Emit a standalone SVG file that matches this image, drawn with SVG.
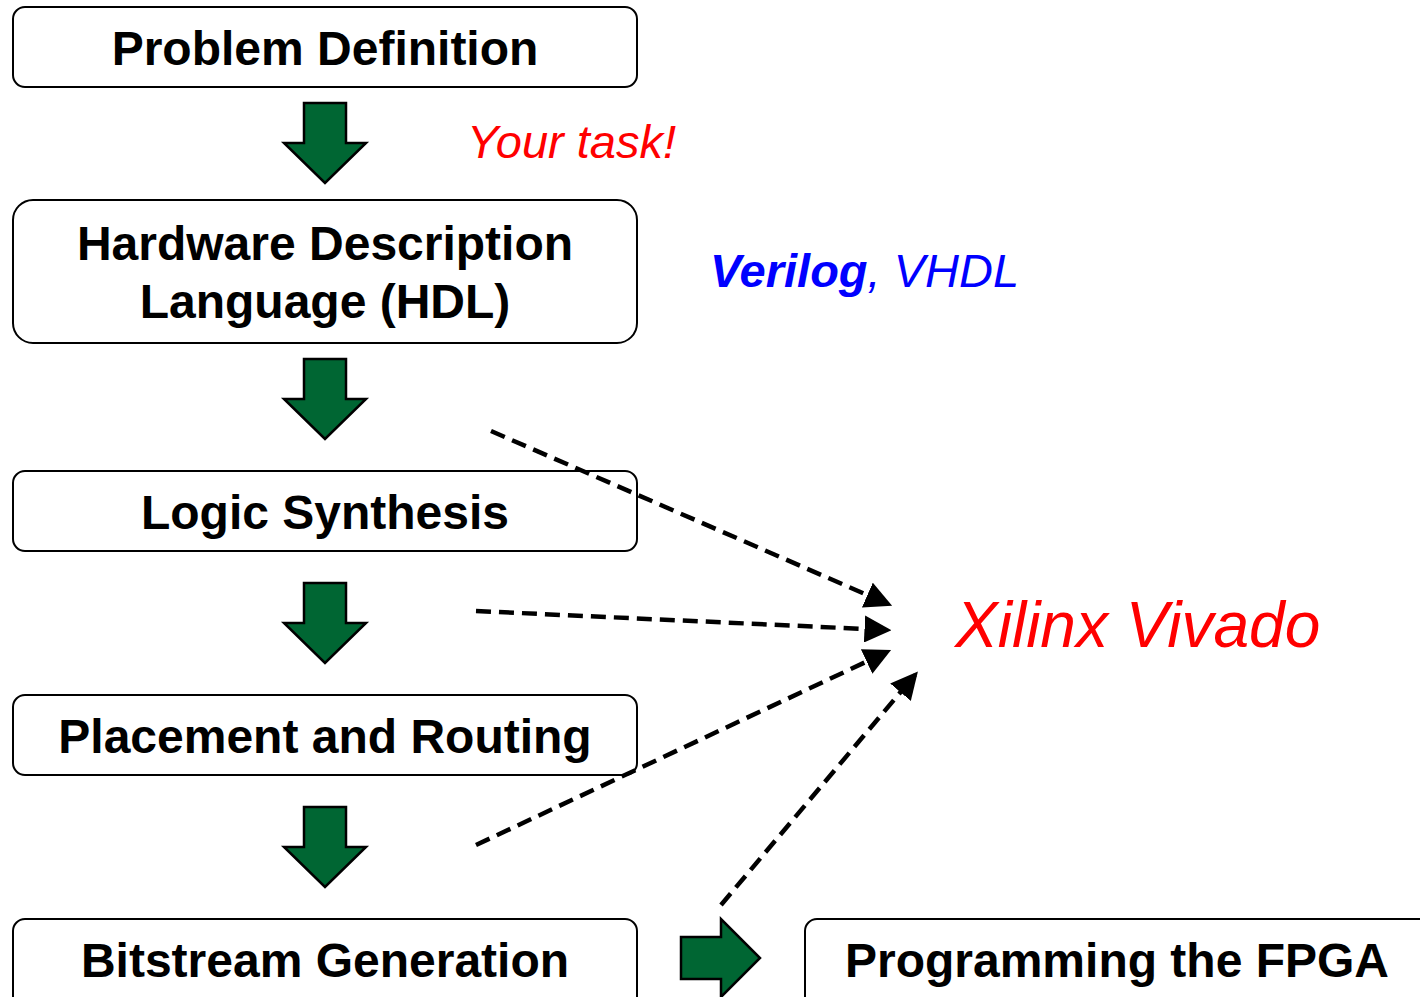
<svg xmlns="http://www.w3.org/2000/svg" width="1420" height="997" viewBox="0 0 1420 997">
<style>
.box{fill:#fff;stroke:#000;stroke-width:2}
.t{font-family:"Liberation Sans",Arial,sans-serif;font-weight:bold;font-size:48px;text-anchor:middle;fill:#000}
.arr{fill:#006633;stroke:#000;stroke-width:2.5;stroke-linejoin:miter}
.dash{stroke:#000;stroke-width:4.5;stroke-dasharray:15 8;fill:none;marker-end:url(#ah)}
.lbl{font-family:"Liberation Sans",Arial,sans-serif;font-style:italic}
</style>
<defs>
<marker id="ah" markerWidth="6" markerHeight="6" refX="5" refY="3" orient="auto" markerUnits="strokeWidth"><path d="M0,0 L6,3 L0,6 Z" fill="#000"/></marker>
<path id="down" d="M-21,0 H21 V40 H41 L0,80 L-41,40 H-21 Z"/>
</defs>
<g id="n1"><rect class="box" x="13" y="7" width="624" height="80" rx="12"/><text class="t" x="325" y="65">Problem Definition</text></g>
<g id="n2"><rect class="box" x="13" y="200" width="624" height="143" rx="20"/><text class="t" x="325" y="260">Hardware Description</text><text class="t" x="325" y="318">Language (HDL)</text></g>
<g id="n3"><rect class="box" x="13" y="471" width="624" height="80" rx="12"/><text class="t" x="325" y="529">Logic Synthesis</text></g>
<g id="n4"><rect class="box" x="13" y="695" width="624" height="80" rx="12"/><text class="t" x="325" y="753">Placement and Routing</text></g>
<g id="n5"><rect class="box" x="13" y="919" width="624" height="100" rx="12"/><text class="t" x="325" y="977">Bitstream Generation</text></g>
<g id="n6"><rect class="box" x="805" y="919" width="640" height="100" rx="12"/><text class="t" x="1117" y="977">Programming the FPGA</text></g>
<g id="labels">
<text class="lbl" x="467" y="158" font-size="47" fill="#ff0000">Your task!</text>
<text class="lbl" x="710" y="287" font-size="47" fill="#0000ff"><tspan font-weight="bold">Verilog</tspan>, VHDL</text>
<text class="lbl" x="955" y="647" font-size="64" fill="#ff0000">Xilinx Vivado</text>
</g>
<g id="flow-arrows">
<use href="#down" class="arr" x="325" y="103"/>
<use href="#down" class="arr" x="325" y="359"/>
<use href="#down" class="arr" x="325" y="583"/>
<use href="#down" class="arr" x="325" y="807"/>
<path class="arr" d="M681,937 H721 V919 L760,958 L721,997 V979 H681 Z"/>
</g>
<g id="connectors">
<line class="dash" x1="491" y1="431" x2="888" y2="604"/>
<line class="dash" x1="476" y1="611" x2="887" y2="630"/>
<line class="dash" x1="476" y1="845" x2="887" y2="652"/>
<line class="dash" x1="721" y1="905" x2="915" y2="675"/>
</g>
</svg>
